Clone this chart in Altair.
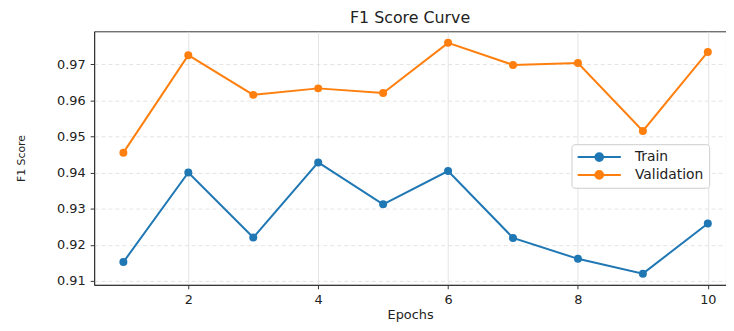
import altair as alt
import pandas as pd

epochs = [1, 2, 3, 4, 5, 6, 7, 8, 9, 10]
train_f1 = [0.9152, 0.9400, 0.9220, 0.9428, 0.9312, 0.9404, 0.9219, 0.9161, 0.9120, 0.9259]
val_f1 = [0.9455, 0.9725, 0.9615, 0.9633, 0.9620, 0.9759, 0.9698, 0.9703, 0.9515, 0.9734]
series_names = ["Train", "Validation"]
series_colors = ["#1f77b4", "#ff7f0e"]
x_ticks = [2, 4, 6, 8, 10]
y_ticks = [0.91, 0.92, 0.93, 0.94, 0.95, 0.96, 0.97]

df = pd.DataFrame(
    {
        "Epoch": epochs * 2,
        "F1": train_f1 + val_f1,
        "Series": [series_names[0]] * len(epochs) + [series_names[1]] * len(epochs),
    }
)

FONT = "DejaVu Sans"
sym_path = "M-1,0H1M-0.18,0A0.18,0.18,0,1,1,0.18,0A0.18,0.18,0,1,1,-0.18,0Z"

x = alt.X(
    "Epoch:Q",
    scale=alt.Scale(domain=[0.55, 10.28], nice=False, zero=False),
    axis=alt.Axis(
        values=x_ticks,
        title="Epochs",
        grid=True,
        gridColor="#dddddd",
        gridWidth=0.8,
        tickSize=4,
        labelPadding=5,
        titlePadding=2,
    ),
)
y = alt.Y(
    "F1:Q",
    scale=alt.Scale(domain=[0.9089, 0.9791], nice=False, zero=False),
    axis=alt.Axis(
        values=y_ticks,
        format=".2f",
        title="F1 Score",
        grid=True,
        gridColor="#dddddd",
        gridDash=[4, 3],
        gridWidth=0.8,
        tickSize=4,
        labelPadding=5,
        titlePadding=30,
        titleFontSize=11,
    ),
)
color = alt.Color(
    "Series:N",
    scale=alt.Scale(domain=series_names, range=series_colors),
    legend=alt.Legend(
        title=None,
        orient="none",
        legendX=482,
        legendY=114,
        symbolType=sym_path,
        symbolSize=1900,
        symbolStrokeWidth=2,
        clipHeight=16,
        labelFontSize=14,
        labelOffset=13,
        labelFont=FONT,
        labelColor="#222222",
        rowPadding=2,
        padding=5,
        fillColor="white",
        strokeColor="#cccccc",
        cornerRadius=3,
    ),
)

base = alt.Chart(df).encode(x=x, y=y, color=color)
lines = base.mark_line(strokeWidth=2)
points = base.mark_point(filled=True, size=65, opacity=1)

chart = (
    alt.layer(lines, points)
    .properties(
        width=638,
        height=256,
        padding={"left": 87, "top": 22, "right": 0, "bottom": 37},
        autosize=alt.AutoSizeParams(type="none"),
        title=alt.Title("F1 Score Curve", fontSize=16, font=FONT, fontWeight="normal", color="#222222", offset=5),
    )
    .configure_axis(
        labelFont=FONT,
        titleFont=FONT,
        labelFontSize=13,
        titleFontSize=13,
        titleFontWeight="normal",
        labelColor="#222222",
        titleColor="#222222",
        domainColor="#333333",
        tickColor="#333333",
    )
    .configure_view(stroke="#333333", strokeWidth=1)
)

chart.save("out.html", embed_options={"renderer": "svg", "actions": False})
